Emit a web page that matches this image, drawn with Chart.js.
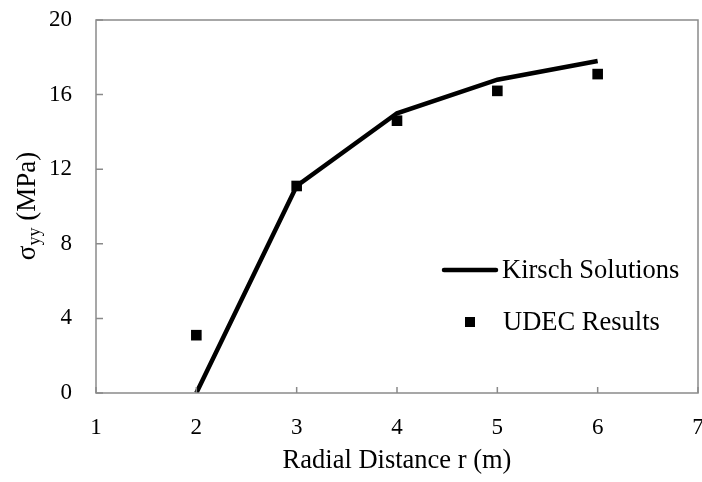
<!DOCTYPE html>
<html>
<head>
<meta charset="utf-8">
<script src="https://cdn.jsdelivr.net/npm/chart.js@4.4.0/dist/chart.umd.min.js"></script>
<style>
  html, body { margin: 0; padding: 0; background: #fff; }
  #wrap { width: 702px; height: 482px; }
</style>
</head>
<body>
<div id="wrap"><canvas id="grafico"></canvas></div>
<script>
// Datos: distancia radial (m) y esfuerzo sigma_yy (MPa)
const distancias = [2, 3, 4, 5, 6];
const kirsch = [0, 11.1, 15.0, 16.8, 17.8];
const udec = [3.1, 11.1, 14.6, 16.2, 17.1];
const etiquetas = ['Kirsch Solutions', 'UDEC Results'];
const ejeX = { min: 1, max: 7, paso: 1, titulo: 'Radial Distance r (m)' };
const ejeY = { min: 0, max: 20, paso: 4 };

const FUENTE = '"Liberation Serif", "Times New Roman", serif';
const GRIS = '#8a8a8a';

// Marco, marcas interiores, título del eje Y y leyenda
const extras = {
    id: 'extras',
    afterDraw(chart) {
        const ctx = chart.ctx;
        const a = chart.chartArea;
        const sx = chart.scales.x;
        const sy = chart.scales.y;
        ctx.save();

        // marco del área de trazado
        ctx.strokeStyle = GRIS;
        ctx.lineWidth = 1.5;
        ctx.strokeRect(a.left, a.top, a.right - a.left, a.bottom - a.top);

        // marcas hacia adentro
        ctx.beginPath();
        sx.ticks.forEach(t => {
            const px = sx.getPixelForValue(t.value);
            ctx.moveTo(px, a.bottom);
            ctx.lineTo(px, a.bottom - 6);
        });
        sy.ticks.forEach(t => {
            const py = sy.getPixelForValue(t.value);
            ctx.moveTo(a.left, py);
            ctx.lineTo(a.left + 7, py);
        });
        ctx.stroke();

        // título del eje Y con subíndice
        ctx.translate(28, 206);
        ctx.rotate(-Math.PI / 2);
        ctx.fillStyle = '#000';
        ctx.textBaseline = 'middle';
        const f1 = '27px ' + FUENTE;
        const f2 = '18px ' + FUENTE;
        ctx.font = f1;
        const wS = ctx.measureText('σ').width;
        const wT = ctx.measureText(' (MPa)').width;
        ctx.font = f2;
        const wSub = ctx.measureText('yy').width;
        let x0 = -(wS + wSub + wT) / 2;
        ctx.font = f1;
        ctx.textAlign = 'left';
        ctx.fillText('σ', x0, 0);
        ctx.font = f2;
        ctx.fillText('yy', x0 + wS, 7);
        ctx.font = f1;
        ctx.fillText(' (MPa)', x0 + wS + wSub, 0);
        ctx.restore();

        // leyenda
        ctx.save();
        ctx.font = '26.5px ' + FUENTE;
        ctx.fillStyle = '#000';
        ctx.textBaseline = 'middle';
        const ds = chart.data.datasets;
        ctx.strokeStyle = ds[0].borderColor;
        ctx.lineWidth = ds[0].borderWidth;
        ctx.lineCap = 'round';
        ctx.beginPath();
        ctx.moveTo(444, 270);
        ctx.lineTo(496, 270);
        ctx.stroke();
        ctx.fillText(ds[0].label, 502, 271);
        ctx.fillRect(470 - 5, 322 - 5, 10, 10);
        ctx.fillText(ds[1].label, 503, 323);
        ctx.restore();
    }
};

const ctx = document.getElementById('grafico').getContext('2d');
new Chart(ctx, {
    type: 'scatter',
    data: {
        datasets: [
            {
                label: etiquetas[0],
                data: distancias.map((r, i) => ({ x: r, y: kirsch[i] })),
                showLine: true,
                borderColor: '#000',
                backgroundColor: '#000',
                borderWidth: 4.5,
                pointRadius: 0,
                tension: 0,
                order: 2
            },
            {
                label: etiquetas[1],
                data: distancias.map((r, i) => ({ x: r, y: udec[i] })),
                showLine: false,
                pointStyle: 'rect',
                pointRadius: 7.5,
                borderWidth: 0,
                backgroundColor: '#000',
                borderColor: '#000',
                order: 1
            }
        ]
    },
    options: {
        responsive: true,
        maintainAspectRatio: false,
        animation: false,
        layout: { autoPadding: false, padding: { top: 20, right: 4, left: 0, bottom: 0 } },
        plugins: {
            legend: { display: false },
            tooltip: { enabled: false }
        },
        scales: {
            x: {
                type: 'linear',
                min: ejeX.min,
                max: ejeX.max,
                ticks: {
                    stepSize: ejeX.paso,
                    padding: 21,
                    color: '#000',
                    font: { family: FUENTE, size: 23 }
                },
                grid: { display: false, drawTicks: false },
                border: { display: false },
                title: {
                    display: true,
                    text: ejeX.titulo,
                    color: '#000',
                    font: { family: FUENTE, size: 26.5 },
                    padding: { top: 2, bottom: 5 }
                },
                afterFit(scale) {
                    scale.height = 89;
                    scale.paddingLeft = 0;
                    scale.paddingRight = 0;
                }
            },
            y: {
                min: ejeY.min,
                max: ejeY.max,
                ticks: {
                    stepSize: ejeY.paso,
                    padding: 24,
                    color: '#000',
                    font: { family: FUENTE, size: 23 }
                },
                grid: { display: false, drawTicks: false },
                border: { display: false },
                afterFit(scale) {
                    scale.width = 96;
                    scale.paddingTop = 0;
                    scale.paddingBottom = 0;
                }
            }
        }
    },
    plugins: [extras]
});
</script>
</body>
</html>
